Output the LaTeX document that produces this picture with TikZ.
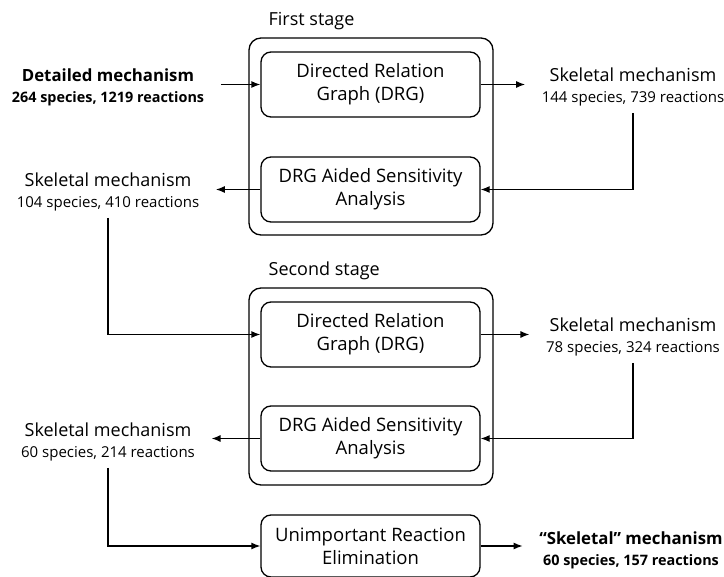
\documentclass[tikz,border=0pt]{standalone}
\usepackage{fontspec}
\setmainfont{Open Sans}
\usepackage{tikz}
\usetikzlibrary{arrows.meta}
\newcommand{\mechsize}{\fontsize{18}{21}\selectfont}
\newcommand{\infosize}{\fontsize{15}{21}\selectfont}
\newcommand{\boldmech}{\fontsize{16.8}{21}\selectfont\bfseries}
\newcommand{\boldinfo}{\fontsize{14.4}{21}\selectfont\bfseries}

\begin{document}
\begin{tikzpicture}[x=1pt,y=-1pt,line width=1.3pt,
  every node/.style={align=center,inner sep=2pt},
  stage/.style={draw,rounded corners=12pt,minimum width=244pt,minimum height=197pt},
  method/.style={draw,rounded corners=10pt,minimum width=219pt,minimum height=65pt,font=\fontsize{18.5}{23}\selectfont},
  mech/.style={inner xsep=16pt,inner ysep=6pt,font=\fontsize{15}{21}\selectfont},
  label/.style={anchor=west,font=\mechsize},
  flow/.style={-{Latex[length=9pt,width=7pt]}}]
\useasboundingbox (0,0) rectangle (724,577);

\node[label] (l1) at (266,21) {First stage};
\node[stage] (s1) at (371,136.5) {};
\node[method] (drg1) at (370.5,84.5) {Directed Relation\\Graph (DRG)};
\node[method] (sa1) at (370.5,189.5) {DRG Aided Sensitivity\\Analysis};

\node[label] (l2) at (266,271) {Second stage};
\node[stage] (s2) at (371,386.5) {};
\node[method] (drg2) at (370.5,334.5) {Directed Relation\\Graph (DRG)};
\node[method] (sa2) at (370.5,438.5) {DRG Aided Sensitivity\\Analysis};

\node[method,minimum height=62pt] (ure) at (370.5,546) {Unimportant Reaction\\Elimination};

\node[mech] (m0) at (108,87) {{\boldmech Detailed mechanism}\\{\boldinfo 264 species, 1219 reactions}};
\node[mech] (m1) at (633,87) {{\mechsize Skeletal mechanism}\\{\infosize 144 species, 739 reactions}};
\node[mech] (m2) at (108,192) {{\mechsize Skeletal mechanism}\\{\infosize 104 species, 410 reactions}};
\node[mech] (m3) at (633,337) {{\mechsize Skeletal mechanism}\\{\infosize 78 species, 324 reactions}};
\node[mech] (m4) at (108,442) {{\mechsize Skeletal mechanism}\\{\infosize 60 species, 214 reactions}};
\node[mech] (m5) at (631,550) {{\boldmech ``Skeletal'' mechanism}\\{\boldinfo 60 species, 157 reactions}};

\draw[flow] (m0.east |- drg1.west) -- (drg1.west);
\draw[flow] (drg1.east) -- (drg1.east -| m1.west);
\draw[flow] (m1.south) |- (sa1.east);
\draw[flow] (sa1.west) -- (sa1.west -| m2.east);
\draw[flow] (m2.south) |- (drg2.west);
\draw[flow] (drg2.east) -- (drg2.east -| m3.west);
\draw[flow] (m3.south) |- (sa2.east);
\draw[flow] (sa2.west) -- (sa2.west -| m4.east);
\draw[flow] (m4.south) |- (ure.west);
\draw[flow] (ure.east) -- (ure.east -| m5.west);

\end{tikzpicture}
\end{document}
